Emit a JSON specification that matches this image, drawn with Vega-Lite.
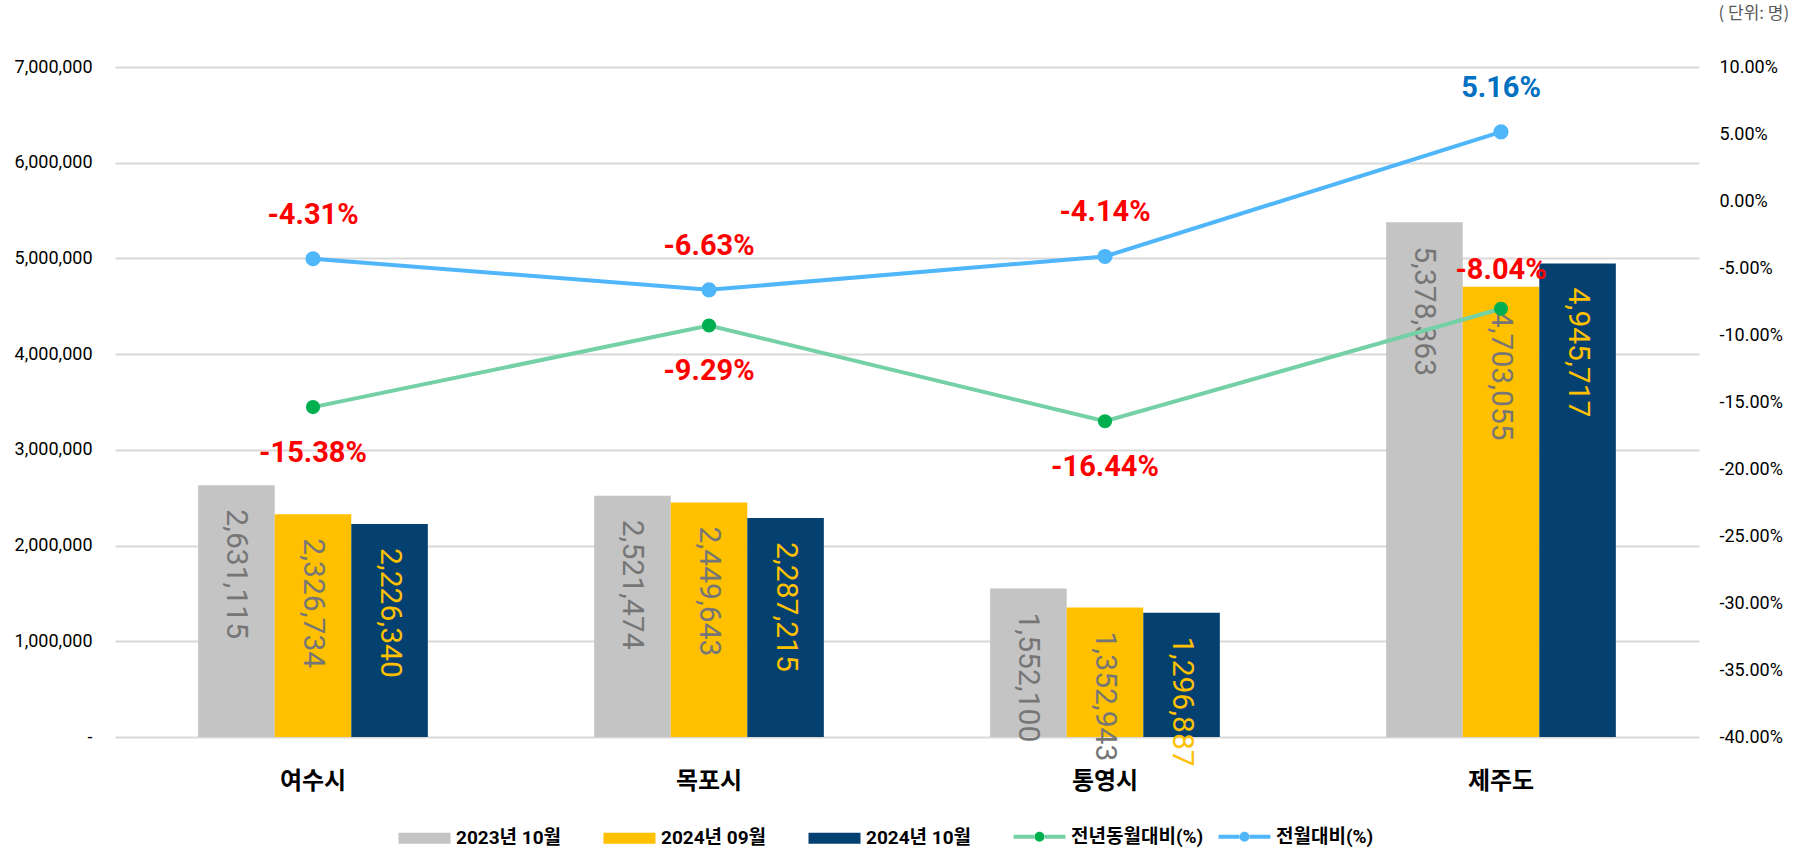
{
  "$schema": "https://vega.github.io/schema/vega-lite/v6.json",
  "width": 1584,
  "height": 670,
  "autosize": {"type": "none"},
  "padding": {"left": 115, "top": 67, "right": 96, "bottom": 112},
  "background": "white",
  "config": {
    "view": {"stroke": null},
    "locale": {"number": {"decimal": ".", "thousands": ",", "grouping": [3], "currency": ["", ""], "minus": "-"}},
    "font": "Roboto, 'Noto Sans CJK KR'",
    "axisX": {"domain": false, "ticks": false, "grid": false, "labelFont": "'Noto Sans CJK KR'", "labelFontSize": 24, "labelFontWeight": "bold", "labelColor": "#000000", "labelPadding": 32, "title": null, "labelAngle": 0},
    "axisLeft": {"domain": false, "ticks": false, "grid": true, "gridColor": "#D9D9D9", "gridWidth": 2, "labelFont": "Roboto", "labelFontSize": 18, "labelColor": "#000000", "labelPadding": 23, "title": null},
    "axisRight": {"domain": false, "ticks": false, "grid": false, "labelFont": "Roboto", "labelFontSize": 18, "labelColor": "#000000", "labelPadding": 20}
  },
  "datasets": {
    "bars": [
      {"region": "여수시", "series": "2023년 10월", "value": 2631115},
      {"region": "여수시", "series": "2024년 09월", "value": 2326734},
      {"region": "여수시", "series": "2024년 10월", "value": 2226340},
      {"region": "목포시", "series": "2023년 10월", "value": 2521474},
      {"region": "목포시", "series": "2024년 09월", "value": 2449643},
      {"region": "목포시", "series": "2024년 10월", "value": 2287215},
      {"region": "통영시", "series": "2023년 10월", "value": 1552100},
      {"region": "통영시", "series": "2024년 09월", "value": 1352943},
      {"region": "통영시", "series": "2024년 10월", "value": 1296887},
      {"region": "제주도", "series": "2023년 10월", "value": 5378363},
      {"region": "제주도", "series": "2024년 09월", "value": 4703055},
      {"region": "제주도", "series": "2024년 10월", "value": 4945717}
    ],
    "rates": [
      {"region": "여수시", "series": "전년동월대비(%)", "pct": -0.1538},
      {"region": "목포시", "series": "전년동월대비(%)", "pct": -0.0929},
      {"region": "통영시", "series": "전년동월대비(%)", "pct": -0.1644},
      {"region": "제주도", "series": "전년동월대비(%)", "pct": -0.0804},
      {"region": "여수시", "series": "전월대비(%)", "pct": -0.0431},
      {"region": "목포시", "series": "전월대비(%)", "pct": -0.0663},
      {"region": "통영시", "series": "전월대비(%)", "pct": -0.0414},
      {"region": "제주도", "series": "전월대비(%)", "pct": 0.0516}
    ]
  },
  "resolve": {"scale": {"y": "independent"}},
  "layer": [
    {
      "data": {"name": "bars"},
      "encoding": {
        "x": {"field": "region", "type": "nominal", "sort": ["여수시", "목포시", "통영시", "제주도"], "scale": {"paddingInner": 0.42, "paddingOuter": 0.21}, "axis": {"title": null}},
        "xOffset": {"field": "series", "type": "nominal", "sort": ["2023년 10월", "2024년 09월", "2024년 10월"], "scale": {"paddingInner": 0, "paddingOuter": 0}},
        "y": {"field": "value", "type": "quantitative", "scale": {"domain": [0, 7000000], "nice": false}, "axis": {"orient": "left", "values": [0, 1000000, 2000000, 3000000, 4000000, 5000000, 6000000, 7000000], "labelExpr": "datum.value === 0 ? '-' : format(datum.value, ',')"}}
      },
      "layer": [
        {
          "mark": {"type": "bar"},
          "encoding": {
            "fill": {
              "field": "series", "type": "nominal",
              "scale": {"domain": ["2023년 10월", "2024년 09월", "2024년 10월", "전년동월대비(%)", "전월대비(%)"], "range": ["#C4C4C4", "#FFC000", "#044170", "#00B050", "#50B6FA"]},
              "legend": {
                "orient": "none", "legendX": 300, "legendY": 760, "direction": "horizontal", "columns": 5, "gridAlign": "all",
                "title": null, "symbolSize": 2704, "labelFont": "Roboto, 'Noto Sans CJK KR'", "labelFontSize": 19, "labelFontWeight": "bold", "labelColor": "#000000", "labelOffset": 22, "columnPadding": 6, "labelLimit": 300,
                "encode": {
                  "symbols": {
                    "update": {
                      "shape": {"signal": "(datum.value === '전년동월대비(%)' || datum.value === '전월대비(%)') ? 'M-1,0H-0.19C-0.19,-0.1049,-0.1049,-0.19,0,-0.19C0.1049,-0.19,0.19,-0.1049,0.19,0C0.19,0.1049,0.1049,0.19,0,0.19C-0.1049,0.19,-0.19,0.1049,-0.19,0M0.19,0H1' : 'M-1,-0.21H1V0.21H-1Z'"},
                      "fill": {"scale": "fill", "field": "value"},
                      "stroke": {"scale": "stroke", "field": "value"},
                      "strokeWidth": {"signal": "(datum.value === '전년동월대비(%)' || datum.value === '전월대비(%)') ? 4 : 0"},
                      "strokeDash": {"value": [21, 31, 2000]},
                      "opacity": {"value": 1}
                    }
                  }
                }
              }
            }
          }
        },
        {
          "mark": {"type": "text", "angle": 90, "align": "left", "baseline": "middle", "dx": 24, "fontSize": 30, "font": "Roboto"},
          "encoding": {
            "text": {"field": "value", "type": "quantitative", "format": ","},
            "color": {"condition": {"test": "datum.series === '2024년 10월'", "value": "#FFC000"}, "value": "#767676"}
          }
        }
      ]
    },
    {
      "data": {"name": "rates"},
      "encoding": {
        "x": {"field": "region", "type": "nominal", "sort": ["여수시", "목포시", "통영시", "제주도"], "scale": {"paddingInner": 0.42, "paddingOuter": 0.21}, "axis": {"title": null}},
        "y": {"field": "pct", "type": "quantitative", "scale": {"domain": [-0.4, 0.1], "nice": false, "zero": false},
          "axis": {"orient": "right", "values": [-0.4, -0.35, -0.3, -0.25, -0.2, -0.15, -0.1, -0.05, 0, 0.05, 0.1], "labelExpr": "replace(format(datum.value, '.2%'), '−', '-')",
            "title": "( 단위: 명)", "titleAngle": 0, "titleX": 19, "titleY": -54, "titleAlign": "left", "titleBaseline": "middle", "titleFontSize": 17, "titleFontWeight": "normal", "titleColor": "#595959", "titleFont": "'Noto Sans CJK KR'"}}
      },
      "layer": [
        {
          "mark": {"type": "line", "strokeWidth": 4},
          "encoding": {
            "stroke": {"field": "series", "type": "nominal", "scale": {"domain": ["2023년 10월", "2024년 09월", "2024년 10월", "전년동월대비(%)", "전월대비(%)"], "range": ["#C4C4C4", "#FFC000", "#044170", "#74D0A5", "#50B6FA"]}, "legend": null}
          }
        },
        {
          "mark": {"type": "point", "filled": true, "opacity": 1, "strokeWidth": 0},
          "encoding": {
            "fill": {"field": "series", "type": "nominal", "scale": {"domain": ["2023년 10월", "2024년 09월", "2024년 10월", "전년동월대비(%)", "전월대비(%)"], "range": ["#C4C4C4", "#FFC000", "#044170", "#00B050", "#50B6FA"]}, "legend": null},
            "size": {"condition": {"test": "datum.series === '전월대비(%)'", "value": 230}, "value": 200}
          }
        },
        {
          "transform": [{"filter": "datum.series === '전월대비(%)'"}],
          "mark": {"type": "text", "fontSize": 29, "fontWeight": "bold", "font": "Roboto", "dy": -44, "baseline": "middle", "align": "center"},
          "encoding": {
            "text": {"field": "pct", "type": "quantitative", "format": ".2%"},
            "color": {"condition": {"test": "datum.pct < 0", "value": "#FF0000"}, "value": "#0070C0"}
          }
        },
        {
          "transform": [{"filter": "datum.series === '전년동월대비(%)' && datum.region !== '제주도'"}],
          "mark": {"type": "text", "fontSize": 29, "fontWeight": "bold", "font": "Roboto", "dy": 46, "baseline": "middle", "align": "center"},
          "encoding": {
            "text": {"field": "pct", "type": "quantitative", "format": ".2%"},
            "color": {"condition": {"test": "datum.pct < 0", "value": "#FF0000"}, "value": "#0070C0"}
          }
        },
        {
          "transform": [{"filter": "datum.series === '전년동월대비(%)' && datum.region === '제주도'"}],
          "mark": {"type": "text", "fontSize": 29, "fontWeight": "bold", "font": "Roboto", "dy": -39, "baseline": "middle", "align": "center"},
          "encoding": {
            "text": {"field": "pct", "type": "quantitative", "format": ".2%"},
            "color": {"condition": {"test": "datum.pct < 0", "value": "#FF0000"}, "value": "#0070C0"}
          }
        }
      ]
    }
  ]
}
